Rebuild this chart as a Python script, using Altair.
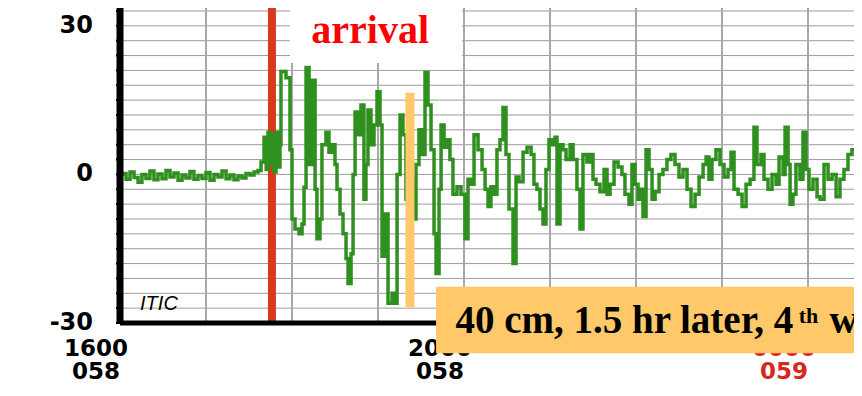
import altair as alt
import pandas as pd

# ---- tide gauge record (minutes after 16:00 on day 058, sea level in cm) ----
minutes = [
    0, 1.4, 4.2, 7.0, 9.8, 12.6, 15.3, 18.1, 20.9, 23.7, 26.5, 29.3, 32.1, 34.9,
    37.7, 40.5, 43.3, 46.0, 48.8, 51.6, 54.4, 57.2, 60.0, 62.8, 65.6, 68.4, 71.2,
    74.0, 76.7, 79.5, 82.3, 85.1, 87.9, 90.7, 93.5, 96.3, 98.4, 100.5, 102.0,
    103.3, 104.7, 106.0, 107.4, 108.8, 110.2, 111.6,
    112.3, 115.8, 118.6, 120.0, 122.1, 124.9, 127.0, 128.4, 129.8, 131.9, 134.0,
    136.1, 137.4, 139.5, 140.9, 143.7, 145.8, 147.9, 150.0, 151.4, 153.5, 155.6,
    157.7, 159.1, 161.2, 162.6, 164.0, 166.1, 168.1, 170.2, 171.6, 173.0, 175.1,
    177.2, 179.3, 181.4, 182.8, 184.9, 187.0, 189.8, 191.9, 193.3, 195.4, 197.4,
    199.5, 202.3, 204.4, 206.5, 208.6, 210.7, 212.8, 214.9, 217.0, 219.1, 220.5,
    222.6, 224.0, 226.1, 228.1, 230.2, 232.3, 235.1, 237.9, 240.7, 242.8, 244.9,
    247.0, 249.8, 252.6, 254.7, 256.8, 258.8, 260.9, 263.0, 265.1, 267.2, 269.3,
    271.4, 274.2, 276.3, 278.4, 281.2, 284.0, 286.8, 288.8, 290.9, 293.0, 295.1,
    297.2, 299.3, 301.4, 303.5, 304.9, 307.0, 309.1, 311.2, 314.0, 316.1, 318.8,
    320.9, 323.0, 325.8, 327.9, 330.0, 332.1, 334.9, 337.7, 339.8, 341.9, 344.7,
    347.5, 350.2, 352.3, 355.1, 357.2, 359.3, 361.4, 363.5, 364.9, 367.0, 369.1,
    371.2, 373.3, 376.1, 378.8, 381.6, 384.4, 387.2, 390.0, 392.8, 395.6, 398.4,
    401.2, 404.0, 406.8, 408.9, 410.9, 413.0, 415.8, 418.6, 421.4, 424.2, 426.3,
    428.4, 431.2, 434.0, 436.8, 439.6, 442.3, 444.4, 447.2, 449.3, 452.1, 454.9,
    457.7, 459.8, 462.6, 464.0, 466.1, 467.5, 469.5, 471.6, 474.4, 476.5, 478.6,
    480.7, 483.5, 486.3, 488.4, 491.2, 494.0, 496.8, 499.6, 502.3, 505.1, 507.9,
    510.7, 513.5, 516.3, 518.0,
]
level_cm = [
    0.0, 0.2, -1.0, 0.5, -0.6, -1.6, 0.0, -0.8, 0.7, -1.1, 0.1, -0.9, 0.8, -0.5,
    0.3, -1.2, -0.1, -0.7, 0.6, -1.0, -0.2, -0.8, 0.4, -1.2, 0.0, -0.5, 0.7,
    -0.9, -0.1, -1.1, -0.3, -0.7, 0.2, -0.1, 0.5, 0.8, 2.5, 7.5, 1.0,
    8.5, 2.0, 8.0, 0.5, 8.5, 1.5, 6.0,
    20.8, 19.5, 5, -9, -11, -12, -10, -2.6, 21.6, 2, 19,
    -3, -13, -9, 6, 8.5, 4.5, 6, 2, -3, -8, -12,
    -17, -22, -16, 0, 12.6, 8, 14, -5, 2, 13, 6,
    10, 16.7, 10, -16.5, -8, -26, -24, -26, 0, 12, 8,
    -5, -1, -9, 2, 9, 4, 20.6, 14, 5, -12, -20,
    -3, 10, 5.5, 7, 3, -4, -2.5, -4, -13, -1, -2,
    8, 5, 1, -3, -6.5, -2.5, -4, 5, 7, 13.5, 4,
    -7, -18, -0.5, -1.5, 4.5, 5.5, 4, -2, -3, -7, -10,
    1, 7, 6, 7.5, -10, 6, 5, 3, 6, 3, -3,
    -11, 4, 2.5, 4, -1, -2, -3.5, 1, -4, -2, 2.5,
    1.5, 0, -4, -6, 2, -2, -5, -3, -8.5, 5, 1,
    -5, -3.5, 0, 1, 3, 4, 2, -0.5, 1, -3, -6.5,
    -4, -0.5, 2, 3.5, -1, 3, 5, 2, -0.5, 1, 4.5,
    -3, -4, -6.5, -2, -1, 9.5, 2, 4, -1, -3, 0,
    -2, 3.5, 0, 9.5, 2, -6, -4, 2, -1, 8.5, 1,
    -3, -1, -4.5, -5, 2, -1, 0, -4.5, -1, 1, 4,
    5, 5.5, 2, 2,
]

# ---- grid / tick labels ----
x_grid_minutes = [0, 60, 120, 180, 240, 300, 360, 420, 480]
x_label_minutes = [0, 240, 480]
x_label_time = ["1600", "2000", "0000"]
x_label_day = ["058", "058", "059"]
y_grid_cm = list(range(-30, 34, 3))
y_label_cm = [-30, 0, 30]

# ---- annotations ----
arrival_minute = 106.0
marker_minute = 202.3
marker_top, marker_bottom = 16.5, -26.8
arrival_text = "arrival"
note_text = "40 cm, 1.5 hr later, 4"
note_sup = "th"
note_tail = "wave"
station = "ITIC"

PLOT_W = 734
X_MAX = PLOT_W / 86 * 60          # 86 px per hour as in the original
Y_MIN, Y_MAX = -30, 33.6
NEXT_DAY = 480
TICK_LEN = -2.8                   # minutes, small outward ticks on the left axis

xs = alt.Scale(domain=[0, X_MAX], nice=False, zero=False)
ys = alt.Scale(domain=[Y_MIN, Y_MAX], nice=False, zero=False)


def X(field):
    return alt.X(field, scale=xs, axis=None)


def Y(field):
    return alt.Y(field, scale=ys, axis=None)


df = pd.DataFrame({"t": minutes, "v": level_cm})

hgrid = alt.Chart(pd.DataFrame({"v": y_grid_cm})).mark_rule(color="#9c9c9c", strokeWidth=1).encode(y=Y("v:Q"))
vgrid = alt.Chart(pd.DataFrame({"t": x_grid_minutes})).mark_rule(color="#a8a8a8", strokeWidth=2).encode(x=X("t:Q"))

left_axis = alt.Chart(pd.DataFrame({"t": [0]})).mark_rule(color="black", strokeWidth=7).encode(x=X("t:Q"))
bottom_axis = alt.Chart(pd.DataFrame({"v": [Y_MIN]})).mark_rule(color="black", strokeWidth=5).encode(y=Y("v:Q"))
yticks = alt.Chart(pd.DataFrame({"v": y_grid_cm, "t0": [TICK_LEN] * len(y_grid_cm),
                                 "t1": [0] * len(y_grid_cm)})).mark_rule(
    color="black", strokeWidth=2).encode(x=X("t0:Q"), x2="t1:Q", y=Y("v:Q"))

ylab = alt.Chart(pd.DataFrame({"t": [0] * len(y_label_cm), "v": y_label_cm,
                               "s": [str(v) for v in y_label_cm]})).mark_text(
    font="DejaVu Sans", fontWeight="bold", fontSize=24, color="black",
    align="right", baseline="middle", dx=-27,
).encode(x=X("t:Q"), y=Y("v:Q"), text="s:N")

xlab_df = pd.DataFrame({"t": x_label_minutes, "v": [Y_MIN] * len(x_label_minutes),
                        "a": x_label_time, "b": x_label_day})
label_color = alt.condition(alt.datum.t >= NEXT_DAY, alt.value("#d6281f"), alt.value("black"))
xlab = alt.Chart(xlab_df).transform_calculate(
    lab="[datum.a, datum.b]"
).mark_text(
    font="DejaVu Sans", fontWeight="bold", fontSize=23, lineHeight=23,
    align="center", baseline="middle", dx=-24, dy=26,
).encode(x=X("t:Q"), y=Y("v:Q"), text="lab:N", color=label_color)

line = alt.Chart(df).mark_line(color="#2f8f1f", strokeWidth=3.5, interpolate="step-after", clip=True).encode(
    x=X("t:Q"), y=Y("v:Q"),
)

red = alt.Chart(pd.DataFrame({"t": [arrival_minute]})).mark_rule(color="#d8381e", strokeWidth=8).encode(
    x=X("t:Q"),
)

mk = pd.DataFrame({"t": [marker_minute], "y0": [marker_bottom], "y1": [marker_top]})
orange = alt.Chart(mk).mark_rule(color="#ffc868", strokeWidth=9).encode(
    x=X("t:Q"), y=Y("y0:Q"), y2="y1:Q",
)

wb = pd.DataFrame({"t0": [118.6], "t1": [238.6], "y0": [22.5], "y1": [Y_MAX]})
white_box = alt.Chart(wb).mark_rect(color="white").encode(
    x=X("t0:Q"), x2="t1:Q", y=Y("y0:Q"), y2="y1:Q",
)
arr_txt = alt.Chart(pd.DataFrame({"t": [133.5], "v": [26.6], "s": [arrival_text]})).mark_text(
    font="Liberation Serif", fontWeight="bold", fontSize=40, color="#ff0000",
    align="left", baseline="alphabetic",
).encode(x=X("t:Q"), y=Y("v:Q"), text="s:N")

ob = pd.DataFrame({"t0": [220.5], "t1": [X_MAX], "y0": [-36.1], "y1": [-22.7]})
orange_box = alt.Chart(ob).mark_rect(color="#ffc868").encode(
    x=X("t0:Q"), x2="t1:Q", y=Y("y0:Q"), y2="y1:Q",
)
note_df = pd.DataFrame({
    "t": [234.0, 473.5, 495.0],
    "v": [-32.0, -30.0, -32.0],
    "s": [note_text, note_sup, note_tail],
    "size": [39, 22, 39],
})
note = alt.Chart(note_df).mark_text(
    font="Liberation Serif", fontWeight="bold", color="black",
    align="left", baseline="alphabetic",
).encode(
    x=X("t:Q"), y=Y("v:Q"), text="s:N",
    size=alt.Size("size:Q", scale=None, legend=None),
)
station_txt = alt.Chart(pd.DataFrame({"t": [14], "v": [-27.4], "s": [station]})).mark_text(
    font="Liberation Sans", fontStyle="italic", fontSize=20, color="black",
    align="left", baseline="alphabetic",
).encode(x=X("t:Q"), y=Y("v:Q"), text="s:N")

chart = alt.layer(
    hgrid, vgrid, red, line, left_axis, bottom_axis, yticks, ylab, xlab,
    orange, white_box, arr_txt, orange_box, note, station_txt,
).properties(
    width=PLOT_W, height=315,
    autosize=alt.AutoSizeParams(type="none"),
    padding={"left": 112, "top": 0, "right": 0, "bottom": 61},
).configure_view(stroke=None)

chart.save("out.html", embed_options={"renderer": "svg", "actions": False})
